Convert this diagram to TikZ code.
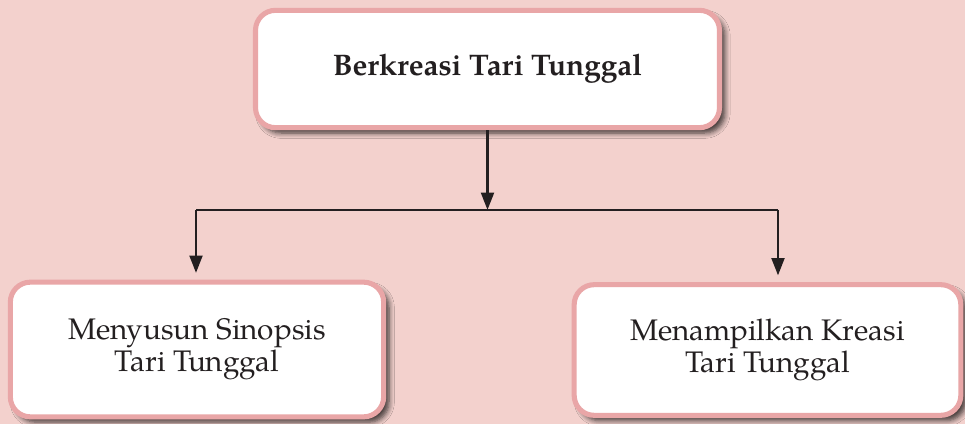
\documentclass[tikz,border=0pt]{standalone}
\usepackage{fontspec}
\setmainfont{TeX Gyre Pagella}
\usetikzlibrary{arrows.meta,shadows.blur}
\definecolor{bgpink}{HTML}{F3D1CD}
\definecolor{boxline}{HTML}{E9A6A7}
\definecolor{inkline}{HTML}{231F20}
\begin{document}
\begin{tikzpicture}[x=0.75pt,y=-0.75pt,
    box/.style={draw=boxline, line width=3.8pt, fill=white, rounded corners=15pt,
        align=center, text=inkline, font=\fontsize{22.3}{24}\selectfont,
        blur shadow={shadow xshift=4pt, shadow yshift=-4pt, shadow blur steps=6, shadow opacity=75, shadow blur radius=4pt}},
    link/.style={line width=2.2pt, draw=inkline, -{Triangle[length=13pt,width=9.5pt]}}]
    \fill[bgpink] (0,0) rectangle (965,424);
    \node[box, minimum width=348pt, minimum height=88pt] (top) at (487.5,69) {\bfseries Berkreasi Tari Tunggal};
    \node[box, minimum width=280pt, minimum height=101pt] (sinopsis) at (197,349.5) {Menyusun Sinopsis\\Tari Tunggal};
    \node[box, minimum width=290pt, minimum height=98pt] (kreasi) at (767.5,350) {Menampilkan Kreasi\\Tari Tunggal};
    \coordinate (busL) at (196,210);
    \coordinate (busR) at (778,210);
    \draw[inkline, line width=2.2pt] (busL) -- (busR);
    \draw[link] (top.south) -- (top.south |- busL);
    \draw[link] (busL) -- ([yshift=5pt]busL |- sinopsis.north);
    \draw[link] (busR) -- ([yshift=5pt]busR |- kreasi.north);
\end{tikzpicture}
\end{document}
